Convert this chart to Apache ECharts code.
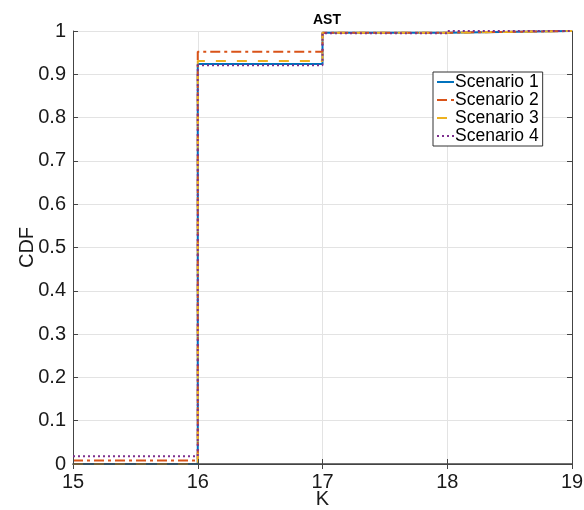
<!DOCTYPE html>
<html>
<head>
<meta charset="utf-8">
<script src="https://cdn.jsdelivr.net/npm/echarts@6/dist/echarts.min.js"></script>
<style>
    html, body { margin: 0; padding: 0; background: #fff; }
    #grafico-cdf { width: 584px; height: 510px; }
</style>
</head>
<body>
<div id="grafico-cdf"></div>
<script>
// K values (step edges) and CDF per scenario
const kValues = [15, 16, 17, 18, 19];
const scenario1 = [0, 0.924, 0.996, 1, 1];
const scenario2 = [0.008, 0.952, 0.996, 1, 1];
const scenario3 = [0, 0.931, 0.996, 1, 1];
const scenario4 = [0.018, 0.921, 0.995, 1, 1];
const seriesNames = ['Scenario 1', 'Scenario 2', 'Scenario 3', 'Scenario 4'];

const fonte = 'Liberation Sans, Arial, Helvetica, sans-serif';
const corTexto = '#1a1a1a';
const corEixo = '#444';
const corGrade = '#e3e3e3';

function montarSerie(nome, valores, cor, tracejado) {
    return {
        name: nome,
        type: 'line',
        step: 'end',
        symbol: 'none',
        data: kValues.map((k, i) => [k, valores[i]]),
        itemStyle: { color: cor },
        lineStyle: { color: cor, width: 2, type: tracejado }
    };
}

function renderGraficoCdf() {
    const chartDom = document.getElementById('grafico-cdf');
    const myChart = echarts.init(chartDom);
    const tick = { show: true, inside: true, length: 5, lineStyle: { color: corEixo } };
    const option = {
        animation: false,
        title: {
            text: 'AST',
            left: 322,
            textAlign: 'center',
            top: 8,
            textStyle: { fontFamily: fonte, fontSize: 14, fontWeight: 'bold', color: '#000' }
        },
        legend: {
            data: seriesNames,
            orient: 'vertical',
            left: 433,
            top: 72,
            itemWidth: 17,
            itemHeight: 10,
            itemGap: 0,
            padding: [1, 4, 1, 3],
            borderColor: '#333',
            borderWidth: 1,
            backgroundColor: '#fff',
            itemStyle: { opacity: 0 },
            textStyle: { fontFamily: fonte, fontSize: 17.5, color: '#000', padding: [0, 0, 0, -4], lineHeight: 18 }
        },
        grid: {
            left: 73,
            right: 12,
            top: 31,
            bottom: 46,
            outerBoundsMode: 'none',
            containLabel: false
        },
        xAxis: [
            {
                // eixo de baixo, desenhado por cima das linhas (como no matlab)
                type: 'value',
                min: 15,
                max: 19,
                interval: 1,
                zlevel: 1,
                name: 'K',
                nameLocation: 'middle',
                nameGap: 25,
                nameMoveOverlap: false,
                nameTextStyle: { fontFamily: fonte, fontSize: 20, color: corTexto },
                axisLine: { lineStyle: { color: corEixo, width: 1.5 } },
                axisTick: tick,
                axisLabel: { fontFamily: fonte, fontSize: 20, color: corTexto, margin: 8 },
                splitLine: { show: false }
            },
            {
                // eixo de cima: grade + ticks
                type: 'value',
                position: 'top',
                min: 15,
                max: 19,
                interval: 1,
                axisLine: { show: true, lineStyle: { color: corEixo } },
                axisTick: tick,
                axisLabel: { show: false },
                splitLine: { show: true, lineStyle: { color: corGrade } }
            }
        ],
        yAxis: [
            {
                type: 'value',
                min: 0,
                max: 1,
                interval: 0.1,
                name: 'CDF',
                nameLocation: 'middle',
                nameGap: 36,
                nameMoveOverlap: false,
                nameTextStyle: { fontFamily: fonte, fontSize: 20, color: corTexto },
                axisLine: { show: true, lineStyle: { color: corEixo } },
                axisTick: tick,
                axisLabel: { fontFamily: fonte, fontSize: 20, color: corTexto, margin: 7 },
                splitLine: { lineStyle: { color: corGrade } }
            },
            {
                type: 'value',
                position: 'right',
                min: 0,
                max: 1,
                interval: 0.1,
                axisLine: { show: true, lineStyle: { color: corEixo } },
                axisTick: tick,
                axisLabel: { show: false },
                splitLine: { show: false }
            }
        ],
        series: [
            montarSerie(seriesNames[0], scenario1, '#0072BD', 'solid'),
            montarSerie(seriesNames[1], scenario2, '#D95319', [10, 4, 3, 4]),
            montarSerie(seriesNames[2], scenario3, '#EDB120', [10, 11]),
            montarSerie(seriesNames[3], scenario4, '#7E2F8E', [2, 3])
        ]
    };
    myChart.setOption(option);
}

document.addEventListener('DOMContentLoaded', () => {
    renderGraficoCdf();
});
</script>
</body>
</html>
